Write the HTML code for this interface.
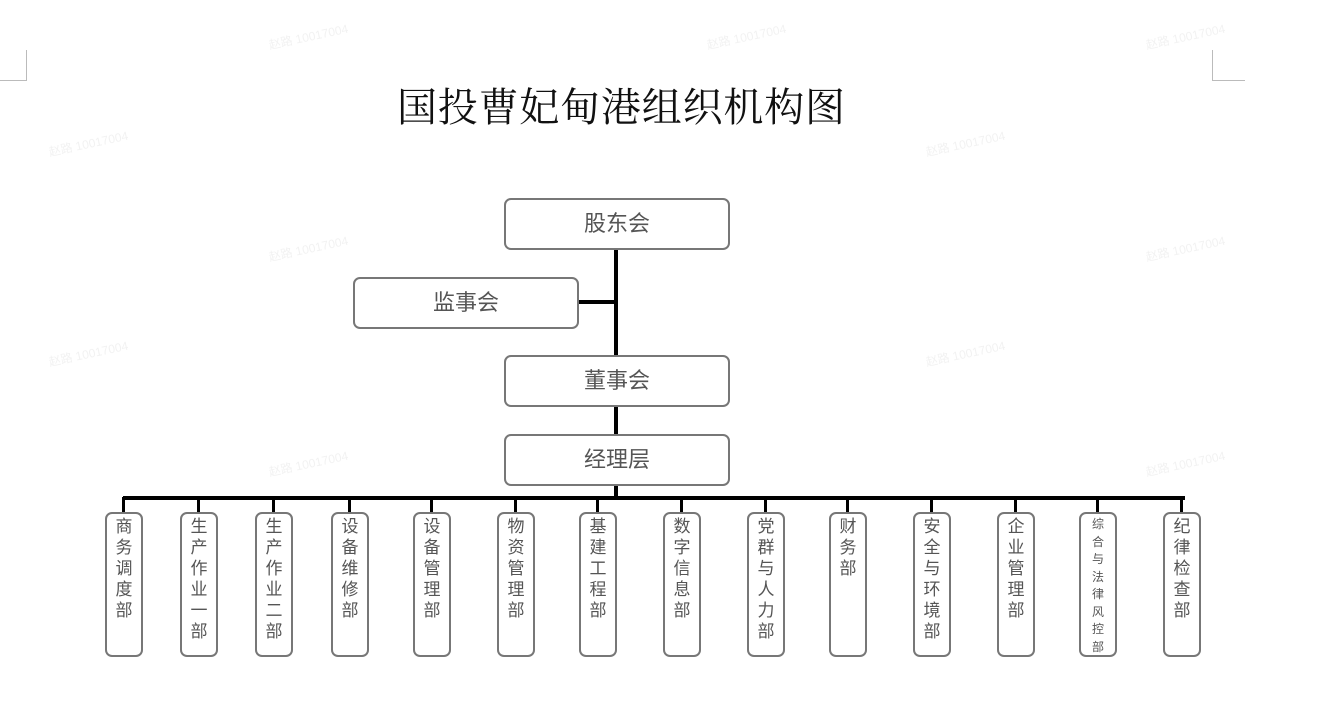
<!DOCTYPE html>
<html><head><meta charset="utf-8"><style>
body{margin:0;width:1336px;height:701px;background:#fff;position:relative;overflow:hidden;font-family:"Liberation Sans","Noto Sans CJK SC",sans-serif;}
.a{position:absolute;}
.t{left:397px;top:82px;font-size:40px;color:#111;letter-spacing:0.8px;white-space:nowrap;line-height:52px;font-family:"Liberation Serif","Noto Serif CJK SC",serif;}
.b{position:absolute;border:2px solid #777;border-radius:7px;background:#fff;box-sizing:border-box;color:#555;text-align:center;}
.h{width:226px;height:52px;line-height:48px;font-size:22px;}
.v{top:512px;width:38px;height:145px;font-size:17px;line-height:21px;padding-top:2px;}
.v.s{font-size:12px;line-height:17.5px;padding-top:2px;}
.l{position:absolute;background:#000;}
.wm{position:absolute;color:#f2f2f2;font-size:12px;transform:rotate(-12deg);}
</style></head><body>
<div class="a" style="left:0;top:80px;width:26px;height:1px;background:#bbb"></div>
<div class="a" style="left:26px;top:50px;width:1px;height:31px;background:#bbb"></div>
<div class="a" style="left:1212px;top:50px;width:1px;height:31px;background:#bbb"></div>
<div class="a" style="left:1212px;top:80px;width:33px;height:1px;background:#bbb"></div>
<div class="wm" style="left:268px;top:28px">赵路 10017004</div>
<div class="wm" style="left:706px;top:28px">赵路 10017004</div>
<div class="wm" style="left:1145px;top:28px">赵路 10017004</div>
<div class="wm" style="left:48px;top:135px">赵路 10017004</div>
<div class="wm" style="left:925px;top:135px">赵路 10017004</div>
<div class="wm" style="left:268px;top:240px">赵路 10017004</div>
<div class="wm" style="left:1145px;top:240px">赵路 10017004</div>
<div class="wm" style="left:48px;top:345px">赵路 10017004</div>
<div class="wm" style="left:925px;top:345px">赵路 10017004</div>
<div class="wm" style="left:268px;top:455px">赵路 10017004</div>
<div class="wm" style="left:1145px;top:455px">赵路 10017004</div>
<div class="a t">国投曹妃甸港组织机构图</div>

<div class="l" style="left:614px;top:249px;width:4px;height:248px"></div>
<div class="l" style="left:579px;top:300px;width:37px;height:4px"></div>
<div class="l" style="left:123px;top:496px;width:1062px;height:4px"></div>

<div class="b h" style="left:504px;top:198px">股东会</div>
<div class="b h" style="left:353px;top:277px">监事会</div>
<div class="b h" style="left:504px;top:355px">董事会</div>
<div class="b h" style="left:504px;top:434px">经理层</div>

<div class="l" style="left:122px;top:497px;width:3px;height:16px"></div>
<div class="l" style="left:197px;top:497px;width:3px;height:16px"></div>
<div class="l" style="left:272px;top:497px;width:3px;height:16px"></div>
<div class="l" style="left:348px;top:497px;width:3px;height:16px"></div>
<div class="l" style="left:430px;top:497px;width:3px;height:16px"></div>
<div class="l" style="left:514px;top:497px;width:3px;height:16px"></div>
<div class="l" style="left:596px;top:497px;width:3px;height:16px"></div>
<div class="l" style="left:680px;top:497px;width:3px;height:16px"></div>
<div class="l" style="left:764px;top:497px;width:3px;height:16px"></div>
<div class="l" style="left:846px;top:497px;width:3px;height:16px"></div>
<div class="l" style="left:930px;top:497px;width:3px;height:16px"></div>
<div class="l" style="left:1014px;top:497px;width:3px;height:16px"></div>
<div class="l" style="left:1096px;top:497px;width:3px;height:16px"></div>
<div class="l" style="left:1180px;top:497px;width:3px;height:16px"></div>

<div class="b v" style="left:105px">商<br>务<br>调<br>度<br>部</div>
<div class="b v" style="left:180px">生<br>产<br>作<br>业<br>一<br>部</div>
<div class="b v" style="left:255px">生<br>产<br>作<br>业<br>二<br>部</div>
<div class="b v" style="left:331px">设<br>备<br>维<br>修<br>部</div>
<div class="b v" style="left:413px">设<br>备<br>管<br>理<br>部</div>
<div class="b v" style="left:497px">物<br>资<br>管<br>理<br>部</div>
<div class="b v" style="left:579px">基<br>建<br>工<br>程<br>部</div>
<div class="b v" style="left:663px">数<br>字<br>信<br>息<br>部</div>
<div class="b v" style="left:747px">党<br>群<br>与<br>人<br>力<br>部</div>
<div class="b v" style="left:829px">财<br>务<br>部</div>
<div class="b v" style="left:913px">安<br>全<br>与<br>环<br>境<br>部</div>
<div class="b v" style="left:997px">企<br>业<br>管<br>理<br>部</div>
<div class="b v s" style="left:1079px">综<br>合<br>与<br>法<br>律<br>风<br>控<br>部</div>
<div class="b v" style="left:1163px">纪<br>律<br>检<br>查<br>部</div>
</body></html>
